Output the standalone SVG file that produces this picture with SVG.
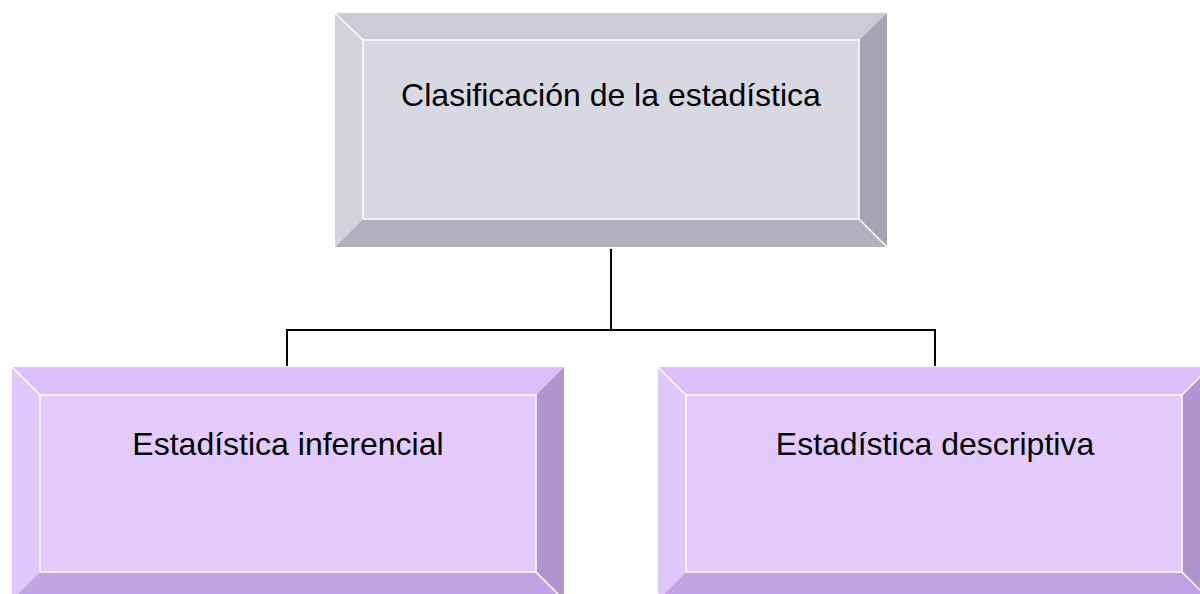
<svg xmlns="http://www.w3.org/2000/svg" width="1200" height="594" viewBox="0 0 1200 594">
<style>
.lbl{font-family:"Liberation Sans",Arial,sans-serif;font-size:32px;fill:#000;text-anchor:middle}
.edge{stroke:#fff;stroke-width:1.5;fill:none}
.conn{stroke:#000;stroke-width:2;fill:none}
.g .t{fill:#cbcbd8}.g .l{fill:#d3d3de}.g .f{fill:#d8d8e2}.g .r{fill:#a5a4b2}.g .b{fill:#b2b1bf}
.p .t{fill:#dcc0fb}.p .l{fill:#e0c7fc}.p .f{fill:#e3cbfd}.p .r{fill:#ae96cc}.p .b{fill:#c2a4e4}
</style>
<g id="node-top" class="g">
<polygon class="t" points="335,13 887,13 859,40 363,40"/>
<polygon class="l" points="335,13 363,40 363,219 335,247"/>
<polygon class="r" points="887,13 887,247 859,219 859,40"/>
<polygon class="b" points="335,247 363,219 859,219 887,247"/>
<rect class="f" x="363" y="40" width="496" height="179"/>
<path class="edge" d="M335,13 L363,40 M887,247 L859,219 M363,219 L363,40 L859,40 L859,219 L363,219"/>
<text class="lbl" x="611" y="106">Clasificación de la estadística</text>
</g>
<g id="node-left" class="p">
<polygon class="t" points="12,367 564,367 536,395 40,395"/>
<polygon class="l" points="12,367 40,395 40,572 12,600"/>
<polygon class="r" points="564,367 564,600 536,572 536,395"/>
<polygon class="b" points="12,600 40,572 536,572 564,600"/>
<rect class="f" x="40" y="395" width="496" height="177"/>
<path class="edge" d="M12,367 L40,395 M564,600 L536,572 M40,572 L40,395 L536,395 L536,572 L40,572"/>
<text class="lbl" x="288" y="455">Estadística inferencial</text>
</g>
<g id="node-right" class="p">
<polygon class="t" points="658,367 1210,367 1182,395 686,395"/>
<polygon class="l" points="658,367 686,395 686,572 658,600"/>
<polygon class="r" points="1210,367 1210,600 1182,572 1182,395"/>
<polygon class="b" points="658,600 686,572 1182,572 1210,600"/>
<rect class="f" x="686" y="395" width="496" height="177"/>
<path class="edge" d="M658,367 L686,395 M1210,600 L1182,572 M1210,367 L1182,395 M686,572 L686,395 L1182,395 L1182,572 L686,572"/>
<text class="lbl" x="935" y="455">Estadística descriptiva</text>
</g>
<g id="connectors">
<path class="conn" d="M611,249 V330 M287,366 V330 H935 V366"/>
</g>
</svg>
